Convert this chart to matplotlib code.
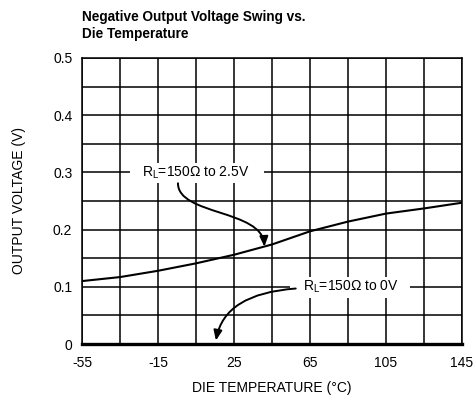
import matplotlib
matplotlib.use("Agg")
import matplotlib.pyplot as plt
from matplotlib.patches import FancyArrowPatch, Rectangle
from matplotlib.path import Path

plt.rcParams['font.family'] = ['Liberation Sans', 'DejaVu Sans']
plt.rcParams['mathtext.fontset'] = 'custom'
plt.rcParams['mathtext.rm'] = 'Liberation Sans'
plt.rcParams['mathtext.it'] = 'Liberation Sans:italic'
plt.rcParams['axes.unicode_minus'] = False

# Data
temp = [-55, -35, -15, 5, 25, 45, 65, 85, 105, 125, 145]
v_25 = [0.110, 0.117, 0.128, 0.141, 0.156, 0.174, 0.197, 0.214, 0.228, 0.237, 0.247]
v_0 = [0.0] * len(temp)
xticks = [-55, -15, 25, 65, 105, 145]
yticks = [0, 0.1, 0.2, 0.3, 0.4, 0.5]
yticklabels = ['0', '0.1', '0.2', '0.3', '0.4', '0.5']
label_25 = r"R$_{\mathrm{L}}$=150Ω to 2.5V"
label_0 = r"R$_{\mathrm{L}}$=150Ω to 0V"

fig = plt.figure(figsize=(4.75, 4.03), dpi=100)
ax = fig.add_axes([82/475, 1-344/403, 380/475, 286/403])

ax.set_xlim(-55, 145)
ax.set_ylim(0, 0.5)

# grid
for gx in range(-55, 146, 20):
    ax.axvline(gx, color='black', lw=1.1, zorder=1)
for i in range(11):
    ax.axhline(i * 0.05, color='black', lw=1.1, zorder=1)

for s in ax.spines.values():
    s.set_linewidth(1.1)
    s.set_color('black')

ax.set_xticks(xticks)
ax.set_xticklabels([str(t) for t in xticks])
ax.set_yticks(yticks)
ax.set_yticklabels(yticklabels)
ax.tick_params(length=0, labelsize=10)
ax.tick_params(axis='x', pad=8.5)
ax.tick_params(axis='y', pad=7)

# label boxes
ax.add_patch(Rectangle((-29.7, 0.2815), 70.5, 0.035, facecolor='white', edgecolor='none', zorder=2))
ax.add_patch(Rectangle((54.5, 0.081), 63.1, 0.037, facecolor='white', edgecolor='none', zorder=2))

ax.plot(temp, v_25, color='black', lw=1.5, zorder=3)
ax.plot(temp, v_0, color='black', lw=2.4, zorder=4, clip_on=False)

ax.text(5, 0.3, label_25, ha='center', va='center', fontsize=10, zorder=5)
ax.text(86.5, 0.1, label_0, ha='center', va='center', fontsize=10, zorder=5)

# arrows
p1 = Path([(-4.5, 0.281), (-4.5, 0.225), (40, 0.235), (41, 0.170)],
          [Path.MOVETO, Path.CURVE4, Path.CURVE4, Path.CURVE4])
a1 = FancyArrowPatch(path=p1, arrowstyle='-|>,head_length=6,head_width=2.5',
                     color='black', lw=1.4, transform=ax.transData, zorder=6)
ax.add_patch(a1)
p2 = Path([(57.5, 0.097), (20, 0.088), (15.5, 0.006)],
          [Path.MOVETO, Path.CURVE3, Path.CURVE3])
a2 = FancyArrowPatch(path=p2, arrowstyle='-|>,head_length=6,head_width=2.5',
                     color='black', lw=1.4, transform=ax.transData, zorder=6)
ax.add_patch(a2)

fig.text(82/475, 1-10/403, "Negative Output Voltage Swing vs.\nDie Temperature",
         ha='left', va='top', fontsize=9.8, fontweight='bold', linespacing=1.3)
fig.text(19/475, 1-201/403, "OUTPUT VOLTAGE (V)", rotation=90, ha='center', va='center', fontsize=10)
fig.text(272/475, 1-388/403, "DIE TEMPERATURE (°C)", ha='center', va='center', fontsize=10)

fig.savefig('out.png', dpi=100)
